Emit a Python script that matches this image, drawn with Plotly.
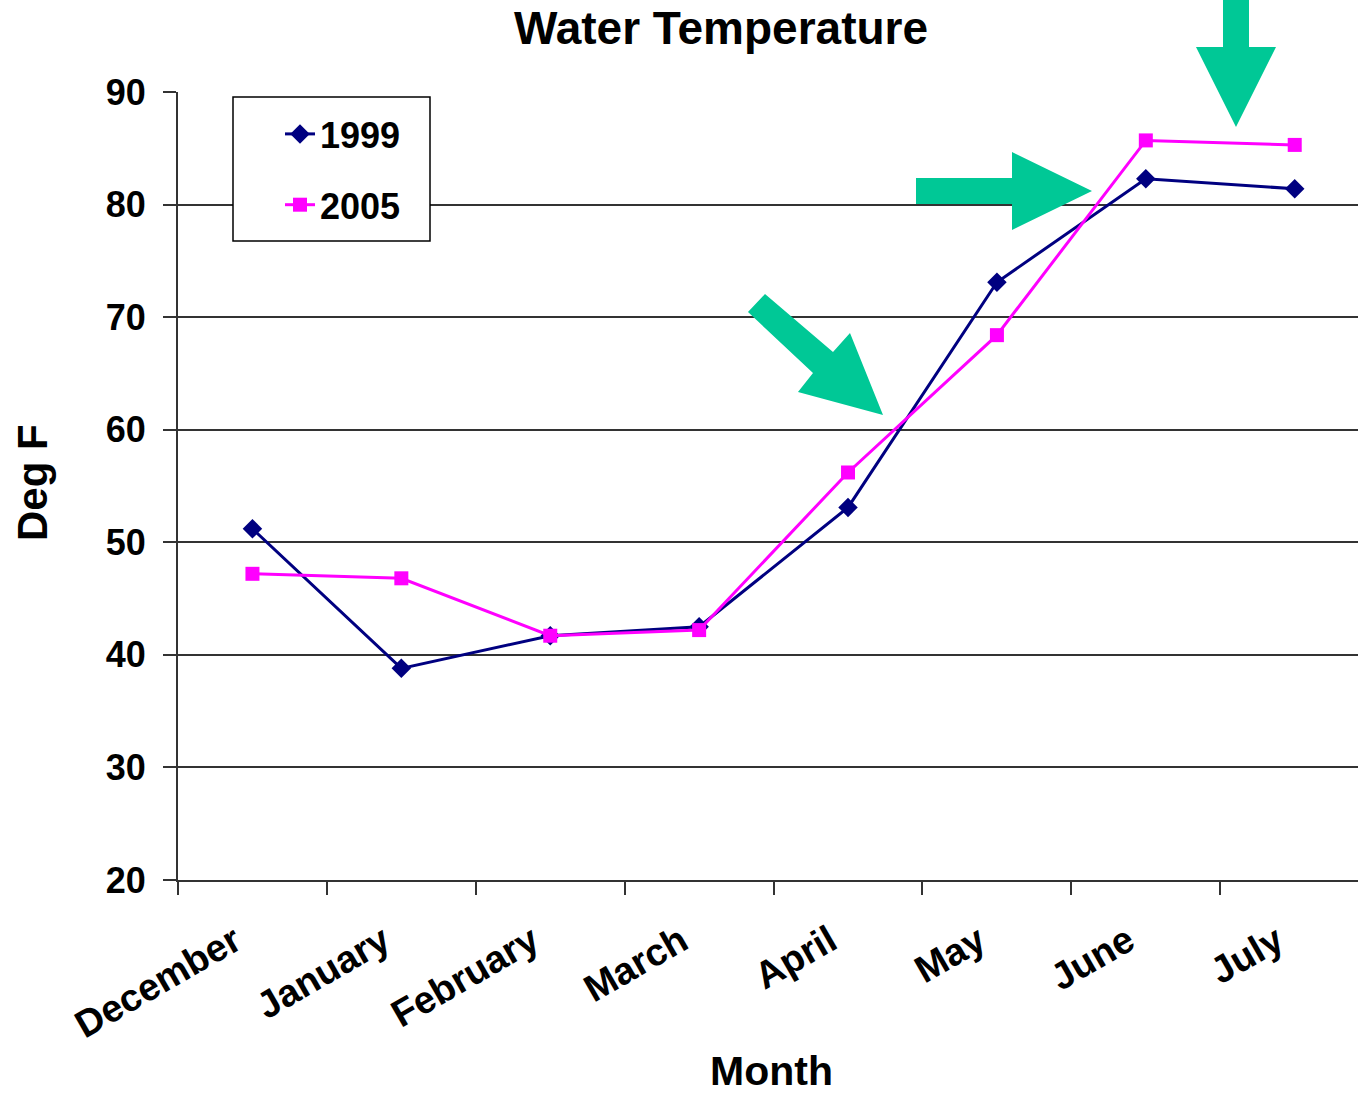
import plotly.graph_objects as go

# ---- data ----
months = ["December", "January", "February", "March", "April", "May", "June", "July"]
temp_1999 = [51.2, 38.8, 41.7, 42.5, 53.1, 73.1, 82.3, 81.4]
temp_2005 = [47.2, 46.8, 41.7, 42.2, 56.2, 68.4, 85.7, 85.3]
y_ticks = [20, 30, 40, 50, 60, 70, 80, 90]

W, H = 1358, 1097
ML, MR, MT, MB = 178, 0, 92, 217
PW, PH = W - ML - MR, H - MT - MB

FONT = "Liberation Sans, Arial, sans-serif"
GREEN = "#00C896"


def px(X, Y):
    """pixel -> paper coords"""
    return (X - ML) / PW, (H - MB - Y) / PH


def poly(points):
    parts = []
    for i, (X, Y) in enumerate(points):
        x, y = px(X, Y)
        parts.append(("M" if i == 0 else "L") + f"{x:.5f},{y:.5f}")
    return " ".join(parts) + " Z"


fig = go.Figure()
fig.add_trace(go.Scatter(
    x=months, y=temp_1999, name="1999", mode="lines+markers",
    line=dict(color="#000080", width=3),
    marker=dict(symbol="diamond", size=15, color="#000080"),
    legendgroup="a",
))
fig.add_trace(go.Scatter(
    x=months, y=temp_2005, name="2005", mode="lines+markers",
    line=dict(color="#FF00FF", width=3),
    marker=dict(symbol="square", size=14, color="#FF00FF"),
    legendgroup="b",
))

arrows = [
    [(748, 312), (765, 294), (833, 352), (850, 333), (883, 415), (798, 392), (813, 373)],
    [(916, 178), (1012, 178), (1012, 152), (1092, 191), (1012, 230), (1012, 204), (916, 204)],
    [(1223, -5), (1249, -5), (1249, 47), (1276, 47), (1236, 127), (1196, 47), (1223, 47)],
]
shapes = []
lx0, ly0 = px(233, 97)
lx1, ly1 = px(430, 241)
shapes.append(dict(type="rect", xref="paper", yref="paper", x0=lx0, y0=ly1, x1=lx1, y1=ly0,
                   line=dict(color="black", width=1.5), fillcolor="white", layer="above"))
for a in arrows:
    shapes.append(dict(type="path", xref="paper", yref="paper", path=poly(a),
                       fillcolor=GREEN, line=dict(width=0), layer="above"))

mx, my = px(772, 1071)
dx, dy = px(32, 483)

fig.update_layout(
    width=W, height=H,
    margin=dict(l=ML, r=MR, t=MT, b=MB, autoexpand=False),
    paper_bgcolor="white", plot_bgcolor="white",
    font=dict(family=FONT, color="black"),
    title=dict(text="<b>Water Temperature</b>", x=721 / W, xanchor="center",
               xref="container", yref="container", y=1 - 28 / H, yanchor="middle",
               font=dict(size=46, family=FONT, color="black")),
    showlegend=True,
    legend=dict(x=px(280, 0)[0], y=px(0, 104)[1], xanchor="left", yanchor="top",
                bgcolor="rgba(0,0,0,0)", borderwidth=0, traceorder="grouped",
                tracegroupgap=21,
                font=dict(size=36, family=FONT, color="black", weight="bold")),
    xaxis=dict(type="category", range=[-0.5, 7.425], tickson="boundaries",
               ticks="outside", ticklen=13, tickwidth=1.5, tickcolor="#333",
               showline=True, linecolor="#333", linewidth=2, showgrid=False,
               tickangle=-30, ticklabelstandoff=22, ticklabelshift=-18,
               tickfont=dict(size=38, family=FONT, color="black", weight="bold"),
               zeroline=False),
    yaxis=dict(range=[20, 90], tickvals=y_ticks, ticks="outside", ticklen=13,
               tickwidth=1.5, tickcolor="#333", showline=True, linecolor="#333",
               linewidth=2, showgrid=True, gridcolor="#333", gridwidth=1.5,
               ticklabelstandoff=10,
               tickfont=dict(size=36, family=FONT, color="black", weight="bold"),
               zeroline=False),
    shapes=shapes,
    annotations=[
        dict(text="<b>Month</b>", xref="paper", yref="paper", x=mx, y=my,
             xanchor="center", yanchor="middle", showarrow=False,
             font=dict(size=41, family=FONT, color="black")),
        dict(text="<b>Deg F</b>", xref="paper", yref="paper", x=dx, y=dy,
             xanchor="center", yanchor="middle", showarrow=False, textangle=-90,
             font=dict(size=42, family=FONT, color="black")),
    ],
)

fig.write_html("out.html", config={"displayModeBar": False},
               post_script="document.body.style.margin='0';document.body.style.overflow='hidden';")
